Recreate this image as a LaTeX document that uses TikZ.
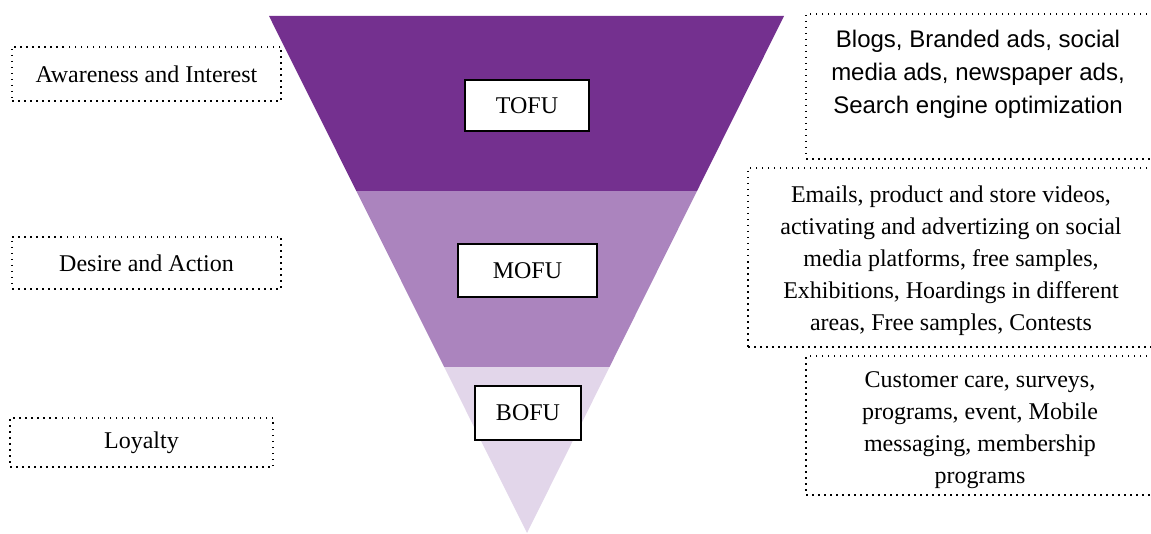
\documentclass[tikz,border=0pt]{standalone}
\usepackage{fontspec}
\setmainfont{Liberation Serif}
\newfontfamily\arialfont{Liberation Sans}
\definecolor{tofucol}{HTML}{74308F}
\definecolor{mofucol}{HTML}{AB84BE}
\definecolor{bofucol}{HTML}{E2D6EA}
\tikzset{
  txt/.style={font=\fontsize{24}{32}\selectfont, inner sep=0pt, align=center},
  dotbox/.style={draw=black, line width=1.5pt, dash pattern=on 1.5pt off 4.5pt, inner sep=0pt},
  stagebox/.style={draw=black, line width=2pt, fill=white, inner sep=0pt,
    font=\fontsize{24}{28}\selectfont},
}
\begin{document}
\begin{tikzpicture}[x=1pt, y=-1pt]
\useasboundingbox (0,0) rectangle (1151,534);
\clip (0,0) rectangle (1151,534);

% funnel bands
\begin{scope}
  \clip (269,16) -- (784,16) -- (527,533) -- cycle;
  \fill[tofucol] (260,10) rectangle (800,191);
  \fill[mofucol] (260,191) rectangle (800,367);
  \fill[bofucol] (260,367) rectangle (800,540);
\end{scope}

% stage labels inside the funnel
\node[stagebox, minimum width=124pt, minimum height=51pt] (tofu) at (527,105.5) {TOFU};
\node[stagebox, minimum width=139pt, minimum height=53pt] (mofu) at (527.5,271) {MOFU};
\node[stagebox, minimum width=106pt, minimum height=53pt] (bofu) at (528,413) {BOFU};

% customer stages on the left
\node[dotbox, txt, minimum width=269pt, minimum height=54pt] (aware) at (146.5,74) {Awareness and Interest};
\node[dotbox, txt, minimum width=269pt, minimum height=52pt] (desire) at (146.5,263) {Desire and Action};
\node[dotbox, txt, minimum width=263pt, minimum height=49pt] (loyal) at (141.5,442.5) {Loyalty};

% channel frames on the right (running past the page edge)
\node[dotbox, minimum width=380pt, minimum height=145pt] (tframe) at (996,86.5) {};
\node[dotbox, minimum width=440pt, minimum height=179pt] (mframe) at (968,257.5) {};
\node[dotbox, minimum width=380pt, minimum height=139pt] (bframe) at (996,425.5) {};

% channel texts
\node[txt, font=\arialfont\fontsize{24}{33}\selectfont] (ttext) at (978,74)
  {Blogs, Branded ads, social\\ media ads, newspaper ads,\\ Search engine optimization};
\node[txt] (mtext) at (951,261)
  {Emails, product and store videos,\\ activating and advertizing on social\\ media platforms, free samples,\\ Exhibitions, Hoardings in different\\ areas, Free samples, Contests};
\node[txt] (btext) at (980,430)
  {Customer care, surveys,\\ programs, event, Mobile\\ messaging, membership\\ programs};
\end{tikzpicture}
\end{document}
